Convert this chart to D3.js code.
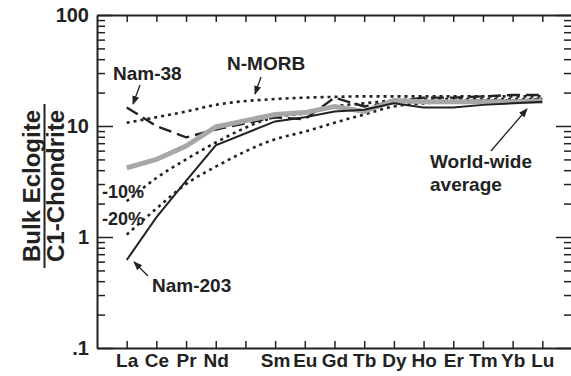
<!DOCTYPE html>
<html>
<head>
<meta charset="utf-8">
<script src="https://cdn.jsdelivr.net/npm/d3@7"></script>
<style>
  body { margin: 0; background: #fff; }
  svg { display: block; font-family: "Liberation Sans", Arial, sans-serif; font-weight: bold; }
</style>
</head>
<body>
<svg id="mySvg" width="571" height="376"></svg>
<script>
var svg = d3.select("#mySvg");

// REE order, Pm has no data (tick only)
const elements = ["La", "Ce", "Pr", "Nd", "Pm", "Sm", "Eu", "Gd", "Tb", "Dy", "Ho", "Er", "Tm", "Yb", "Lu"];
const elementLabels = ["La", "Ce", "Pr", "Nd", "", "Sm", "Eu", "Gd", "Tb", "Dy", "Ho", "Er", "Tm", "Yb", "Lu"];

const nMorb   = [10.7, 12.0, 13.5, 15.5, null, 17.5, 18.0, 18.3, 18.5, 18.5, 18.5, 18.5, 18.5, 18.5, 18.5];
const nam38   = [14.7, 10.0, 7.9, 9.3, null, 12.0, 11.5, 18.0, 15.0, 16.5, 18.0, 18.0, 18.5, 19.0, 19.0];
const nam203  = [0.62, 1.5, 3.2, 6.7, null, 11.0, 12.0, 13.5, 14.0, 16.0, 14.7, 14.7, 15.5, 16.0, 16.5];
const worldAvg = [4.2, 5.0, 6.6, 9.8, null, 12.7, 13.2, 15.0, 13.5, 17.0, 16.5, 16.5, 16.5, 16.5, 16.7];
const minus10 = [2.1, 3.4, 5.0, 7.1, null, 12.0, 13.0, 15.0, 16.0, 17.0, 17.5, 17.5, 17.5, 17.5, 17.5];
const minus20 = [1.05, 1.8, 3.0, 4.3, null, 7.6, 8.9, 10.7, 12.7, 15.0, 16.0, 16.5, 17.0, 17.0, 17.5];

const yMajor = [0.1, 1, 10, 100];
const yMinor = [];
[0.1, 1, 10].forEach(function (d) { for (var k = 2; k <= 9; k++) yMinor.push(d * k); });

const plotLeft = 97, plotRight = 572, plotTop = 15, plotBottom = 348;

var x = d3.scaleLinear().domain([-1, 15]).range([plotLeft, plotRight]);
var y = d3.scaleLog().domain([0.1, 100]).range([plotBottom, plotTop]);

const ink = "#222";

// arrow marker
svg.append("defs").append("marker")
    .attr("id", "arrow")
    .attr("viewBox", "0 0 10 10")
    .attr("refX", 9).attr("refY", 5)
    .attr("markerWidth", 9).attr("markerHeight", 9)
    .attr("markerUnits", "userSpaceOnUse")
    .attr("orient", "auto")
    .append("path").attr("d", "M0,1 L10,5 L0,9 Z").attr("fill", ink);

function styleAxis(g) {
    g.selectAll(".domain").attr("stroke", ink).attr("stroke-width", 2);
    g.selectAll(".tick line").attr("stroke", ink).attr("stroke-width", 1.5);
    g.selectAll("text").attr("fill", ink).attr("font-family", "Liberation Sans, Arial, sans-serif").attr("font-weight", "bold");
}

// left axis
var gl = svg.append("g").attr("transform", `translate(${plotLeft},0)`)
    .call(d3.axisLeft(y).tickValues(yMajor).tickSize(-16).tickSizeOuter(0).tickPadding(8)
        .tickFormat(function (d) { return d === 0.1 ? ".1" : d3.format("d")(d); }));
gl.selectAll("text").attr("font-size", 20);
styleAxis(gl);
var glm = svg.append("g").attr("transform", `translate(${plotLeft},0)`)
    .call(d3.axisLeft(y).tickValues(yMinor).tickSize(-8).tickFormat(""));
glm.select(".domain").remove();
styleAxis(glm);

// right axis
var gr = svg.append("g").attr("transform", `translate(${plotRight},0)`)
    .call(d3.axisRight(y).tickValues(yMajor).tickSize(-16).tickSizeOuter(0).tickFormat(""));
styleAxis(gr);
var grm = svg.append("g").attr("transform", `translate(${plotRight},0)`)
    .call(d3.axisRight(y).tickValues(yMinor).tickSize(-8).tickFormat(""));
grm.select(".domain").remove();
styleAxis(grm);

// bottom axis
var gb = svg.append("g").attr("transform", `translate(0,${plotBottom})`)
    .call(d3.axisBottom(x).tickValues(d3.range(elements.length)).tickSize(-7).tickSizeOuter(0).tickPadding(6)
        .tickFormat(function (i) { return elementLabels[i]; }));
gb.selectAll("text").attr("font-size", 19);
styleAxis(gb);

// top axis
var gt = svg.append("g").attr("transform", `translate(0,${plotTop})`)
    .call(d3.axisTop(x).tickValues(d3.range(elements.length)).tickSize(-7).tickSizeOuter(0).tickFormat(""));
styleAxis(gt);

// series
function pts(arr) {
    return arr.map(function (v, i) { return [i, v]; }).filter(function (p) { return p[1] != null; });
}
var lineSmooth = d3.line().x(function (d) { return x(d[0]); }).y(function (d) { return y(d[1]); }).curve(d3.curveMonotoneX);
var lineStraight = d3.line().x(function (d) { return x(d[0]); }).y(function (d) { return y(d[1]); });

var plot = svg.append("g");
plot.append("path").datum(pts(nMorb)).attr("d", lineSmooth)
    .attr("fill", "none").attr("stroke", ink).attr("stroke-width", 2.6).attr("stroke-dasharray", "3,4");
plot.append("path").datum(pts(minus10)).attr("d", lineSmooth)
    .attr("fill", "none").attr("stroke", ink).attr("stroke-width", 2.6).attr("stroke-dasharray", "3,4");
plot.append("path").datum(pts(minus20)).attr("d", lineSmooth)
    .attr("fill", "none").attr("stroke", ink).attr("stroke-width", 2.6).attr("stroke-dasharray", "3,4");
plot.append("path").datum(pts(nam38)).attr("d", lineStraight)
    .attr("fill", "none").attr("stroke", ink).attr("stroke-width", 2.4).attr("stroke-dasharray", "13,6");
plot.append("path").datum(pts(worldAvg)).attr("d", lineStraight)
    .attr("fill", "none").attr("stroke", "#a7a7a7").attr("stroke-width", 5);
plot.append("path").datum(pts(nam203)).attr("d", lineStraight)
    .attr("fill", "none").attr("stroke", ink).attr("stroke-width", 2);

// annotations
function label(txt, tx, ty, size) {
    svg.append("text").attr("x", tx).attr("y", ty).attr("font-size", size).attr("fill", ink).text(txt);
}
function arrow(x1, y1, x2, y2) {
    svg.append("line").attr("x1", x1).attr("y1", y1).attr("x2", x2).attr("y2", y2)
        .attr("stroke", ink).attr("stroke-width", 1.3).attr("marker-end", "url(#arrow)");
}
label("Nam-38", 113, 80, 19);
arrow(140, 85, 133, 104);
label("N-MORB", 227, 70, 19);
arrow(261, 77, 255, 94);
label("-10%", 102, 198, 18);
label("-20%", 102, 225, 18);
label("Nam-203", 152, 292, 19);
arrow(148, 276, 134, 262);
label("World-wide", 430, 168, 19);
label("average", 430, 191, 19);
arrow(491, 151, 527, 109);

// y title as a fraction
var cy = 186;
svg.append("text").attr("transform", `translate(40,${cy}) rotate(-90)`)
    .attr("text-anchor", "middle").attr("font-size", 24).attr("fill", ink).text("Bulk Eclogite");
svg.append("line").attr("x1", 44.5).attr("x2", 44.5).attr("y1", 104).attr("y2", 268)
    .attr("stroke", ink).attr("stroke-width", 2);
svg.append("text").attr("transform", `translate(64,${cy}) rotate(-90)`)
    .attr("text-anchor", "middle").attr("font-size", 24).attr("fill", ink).text("C1-Chondrite");
</script>
</body>
</html>
